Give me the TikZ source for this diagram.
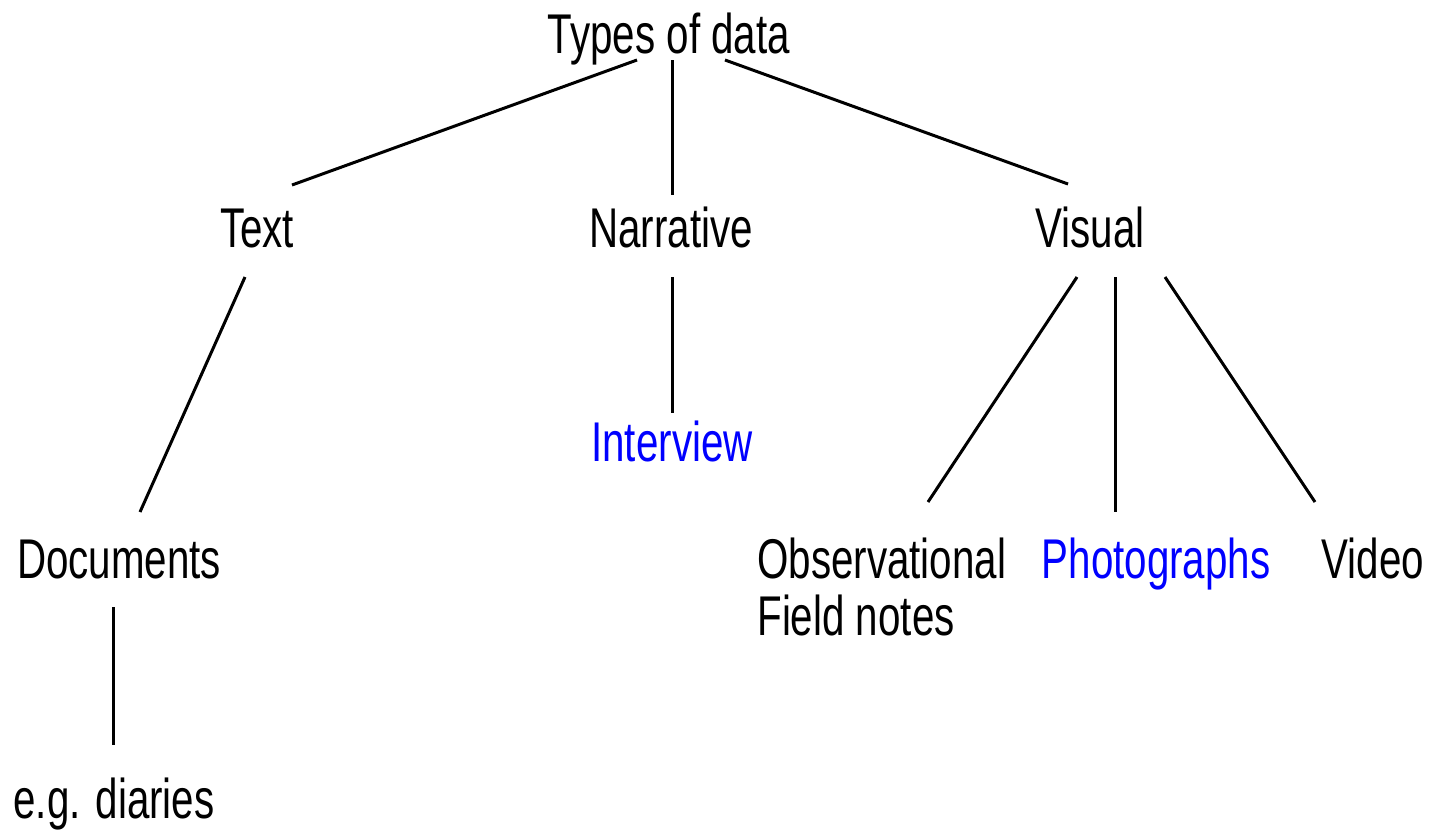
\documentclass[tikz,border=0pt]{standalone}
\usepackage{fontspec}
\setmainfont{Liberation Sans}[FakeStretch=0.72]
\definecolor{linkblue}{RGB}{0,0,255}
\begin{document}
\begin{tikzpicture}[x=0.5pt,y=-0.5pt,
  lbl/.style={inner sep=0pt,anchor=base,font=\fontsize{28}{28.5}\selectfont},
  hl/.style={text=linkblue},
  conn/.style={line width=1.5pt,black}]
\useasboundingbox (0,0) rectangle (1433,832);
% nodes
\node[lbl] (types) at (669,53) {Types of data};
\node[lbl] (text) at (257,247) {Text};
\node[lbl] (narr) at (671,247) {Narrative};
\node[lbl] (visual) at (1090,247) {Visual};
\node[lbl,hl] (interview) at (672,461) {Interview};
\node[lbl] (docs) at (119,578) {Documents};
\node[lbl,anchor=base west,align=left] (obs) at (757,635) {Observational\\Field notes};
\node[lbl,hl] (photos) at (1156,578) {Photographs};
\node[lbl] (video) at (1373,578) {Video};
\node[lbl] (eg) at (114,818) {e.g. diaries};
% connector end points
\coordinate (typesL) at (637,60);
\coordinate (typesM) at (672,60);
\coordinate (typesR) at (725,60);
\coordinate (textT) at (292,185);
\coordinate (narrT) at (672,195);
\coordinate (visualT) at (1068,184);
\coordinate (textB) at (245,277);
\coordinate (docsT) at (140,512);
\coordinate (narrB) at (672,277);
\coordinate (interviewT) at (672,413);
\coordinate (visualB1) at (1077,277);
\coordinate (visualB2) at (1115,277);
\coordinate (visualB3) at (1165,277);
\coordinate (obsT) at (928,502);
\coordinate (photosT) at (1115,512);
\coordinate (videoT) at (1315,502);
\coordinate (docsB) at (113,607);
\coordinate (egT) at (113,745);
% connectors
\draw[conn] (typesL) -- (textT);
\draw[conn] (typesM) -- (narrT);
\draw[conn] (typesR) -- (visualT);
\draw[conn] (textB) -- (docsT);
\draw[conn] (narrB) -- (interviewT);
\draw[conn] (visualB1) -- (obsT);
\draw[conn] (visualB2) -- (photosT);
\draw[conn] (visualB3) -- (videoT);
\draw[conn] (docsB) -- (egT);
\end{tikzpicture}
\end{document}
